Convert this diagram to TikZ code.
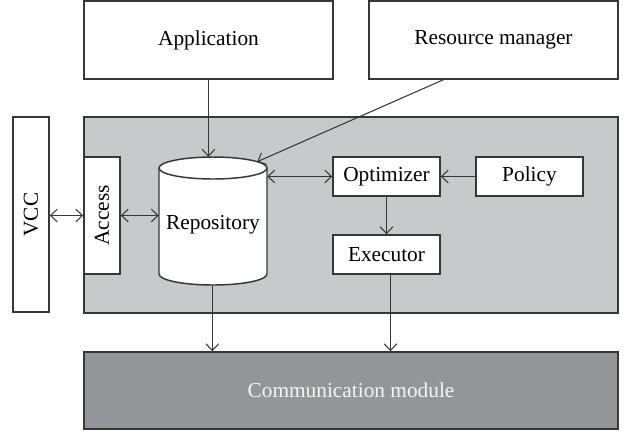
\documentclass[tikz,border=0pt]{standalone}
\usepackage{fontspec}
\setmainfont{Liberation Serif}
\usepackage{graphicx}
\usetikzlibrary{arrows.meta,calc}
\definecolor{panelgray}{RGB}{200,201,203}
\definecolor{commgray}{RGB}{148,149,153}
\definecolor{linegray}{RGB}{55,55,55}

\begin{document}
\begin{tikzpicture}[x=0.75pt, y=-0.75pt, every node/.style={font=\fontsize{16}{19}\selectfont}, >={Straight Barb[length=5pt,width=9.5pt]},
	box/.style={draw=linegray, line width=1.1pt, fill=white, inner sep=0pt},
	arr/.style={->, draw=linegray, line width=0.8pt}]
	\useasboundingbox (0,0) rectangle (627,433);
	% outside blocks
	\node[box, minimum width=186.75pt, minimum height=58.5pt] (app) at (208.5,40) {Application};
	\node[box, minimum width=186.75pt, minimum height=58.5pt] (rm) at (493.5,40) {Resource manager};
	\node[box, minimum width=27pt, minimum height=146.25pt] (vcc) at (31,214.5) {\rotatebox{90}{VCC}};
	% gray panel and what sits in it
	\node[box, fill=panelgray, minimum width=400.5pt, minimum height=147pt] (panel) at (351,215) {};
	\node[box, minimum width=27pt, minimum height=87.75pt] (acc) at (102,215.5) {\rotatebox{90}{Access}};
	\filldraw[box] (159,168) -- (159,274) .. controls (159,280.1) and (183.2,285) .. (213,285) .. controls (242.8,285) and (267,280.1) .. (267,274) -- (267,168);
	\filldraw[box] (213,168) ellipse [x radius=54, y radius=11];
	\node[minimum width=81pt, minimum height=96pt, inner sep=0pt] (repo) at (213,221) {\raisebox{-6pt}[0pt][0pt]{Repository}};
	\coordinate (repotop) at (257.2,161.7);
	\node[box, minimum width=80.25pt, minimum height=29.25pt] (opt) at (386.5,176.5) {Optimizer};
	\node[box, minimum width=80.25pt, minimum height=29.25pt] (pol) at (529.5,176.5) {Policy};
	\node[box, minimum width=80.25pt, minimum height=29.25pt] (exe) at (386.5,254.5) {Executor};
	% bottom block
	\node[box, fill=commgray, text=white!92!gray, minimum width=400.5pt, minimum height=57.75pt] (comm) at (351,390.5) {Communication module};
	% connectors
	\draw[arr] (app.south) -- (app.south |- repo.north);
	\draw[arr] ($(rm.south west)!0.6!(rm.south)$) -- (repotop);
	\draw[arr, <->] (vcc.east |- acc.west) -- (acc.west);
	\draw[arr, <->] (acc.east) -- (repo.west |- acc.east);
	\draw[arr, <->] (repo.east |- opt.west) -- (opt.west);
	\draw[arr] (pol.west) -- (opt.east);
	\draw[arr] (opt.south) -- (exe.north);
	\coordinate (repoout) at ($(repo.south)+(-0.7,0)$);
	\coordinate (exeout) at ($(exe.south)+(4,0)$);
	\draw[arr] (repoout) -- (repoout |- comm.north);
	\draw[arr] (exeout) -- (exeout |- comm.north);
\end{tikzpicture}
\end{document}
